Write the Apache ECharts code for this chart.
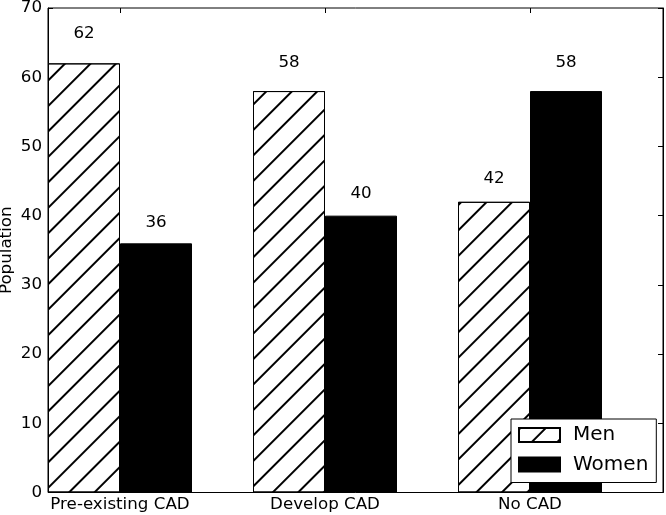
<!DOCTYPE html>
<html><head><meta charset="utf-8">
<script src="https://cdn.jsdelivr.net/npm/echarts@6/dist/echarts.min.js"></script>
<style>html,body{margin:0;padding:0;background:#fff}#c{width:666px;height:515px}</style>
</head><body><div id="c"></div>
<script>
const categories = ['Pre-existing CAD', 'Develop CAD', 'No CAD'];
const menValues = [62, 58, 42];
const womenValues = [36, 40, 58];
const seriesNames = ['Men', 'Women'];
const yMin = 0, yMax = 70, yInterval = 10;

const FONT = 'DejaVu Sans';
const FS = 16.7;
const plotTop = 8, plotBottom = 22.5;
const plotHeight = 515 - plotTop - plotBottom;
const pxPerUnit = plotHeight / (yMax - yMin);
const labelOf = v => ({ value: v, label: { distance: v * 0.05 * pxPerUnit } });

const chart = echarts.init(document.getElementById('c'), null, { renderer: 'canvas' });
chart.setOption({
  animation: false,
  textStyle: { fontFamily: FONT, color: '#000' },
  grid: [
    { left: 17.5, width: 615, top: plotTop, bottom: plotBottom, outerBoundsMode: 'none', containLabel: false },
    { left: 48, right: 3, top: plotTop, bottom: plotBottom, outerBoundsMode: 'none', containLabel: false,
      show: true, borderColor: '#000', borderWidth: 1, backgroundColor: 'transparent' }
  ],
  legend: {
    data: seriesNames, orient: 'vertical', left: 511, top: 419,
    backgroundColor: '#fff', borderColor: '#000', borderWidth: 1, borderRadius: 0,
    padding: [6, 8, 8, 7], itemWidth: 41, itemHeight: 14, itemGap: 9.5, icon: 'rect',
    textStyle: { fontFamily: FONT, fontSize: 20, lineHeight: 20, color: '#000', padding: [0, 0, 0, 8] }
  },
  xAxis: [
    { type: 'category', gridIndex: 0, data: categories, position: 'bottom',
      axisLine: { show: false },
      axisTick: { show: true, inside: true, alignWithLabel: true, length: 5, lineStyle: { color: '#000' } },
      axisLabel: { fontFamily: FONT, fontSize: FS, color: '#000', margin: 4 } },
    { type: 'category', gridIndex: 0, data: categories, position: 'top',
      axisLine: { show: false },
      axisTick: { show: true, inside: true, alignWithLabel: true, length: 5, lineStyle: { color: '#000' } },
      axisLabel: { show: false } },
    { type: 'value', gridIndex: 1, min: 0, max: 1, show: false }
  ],
  yAxis: [
    { type: 'value', gridIndex: 0, min: yMin, max: yMax, show: false },
    { type: 'value', gridIndex: 1, position: 'left', min: yMin, max: yMax, interval: yInterval,
      name: 'Population', nameLocation: 'middle', nameGap: 33, nameRotate: 90, nameMoveOverlap: false,
      nameTextStyle: { fontFamily: FONT, fontSize: FS, color: '#000' },
      axisLine: { show: true, lineStyle: { color: '#000' } },
      axisTick: { show: true, inside: true, length: 5, lineStyle: { color: '#000' } },
      splitLine: { show: false },
      axisLabel: { fontFamily: FONT, fontSize: FS, color: '#000', margin: 6 } },
    { type: 'value', gridIndex: 1, position: 'right', min: yMin, max: yMax, interval: yInterval,
      axisLine: { show: true, lineStyle: { color: '#000' } },
      axisTick: { show: true, inside: true, length: 5, lineStyle: { color: '#000' } },
      splitLine: { show: false }, axisLabel: { show: false } }
  ],
  series: [
    { name: seriesNames[0], type: 'bar', xAxisIndex: 0, yAxisIndex: 0, barWidth: 72, barGap: 0,
      data: menValues.map(labelOf),
      itemStyle: { color: '#fff', borderColor: '#000', borderWidth: 1,
        decal: { symbol: 'rect', symbolSize: 1, dashArrayX: [1, 0], dashArrayY: [1.2, 15.8], rotation: -Math.PI / 4, color: '#000' } },
      label: { show: true, position: 'top', fontFamily: FONT, fontSize: FS, color: '#000' } },
    { name: seriesNames[1], type: 'bar', xAxisIndex: 0, yAxisIndex: 0, barWidth: 72, barGap: 0,
      data: womenValues.map(labelOf),
      itemStyle: { color: '#000', borderColor: '#000', borderWidth: 1 },
      label: { show: true, position: 'top', fontFamily: FONT, fontSize: FS, color: '#000' } }
  ]
});
</script></body></html>
